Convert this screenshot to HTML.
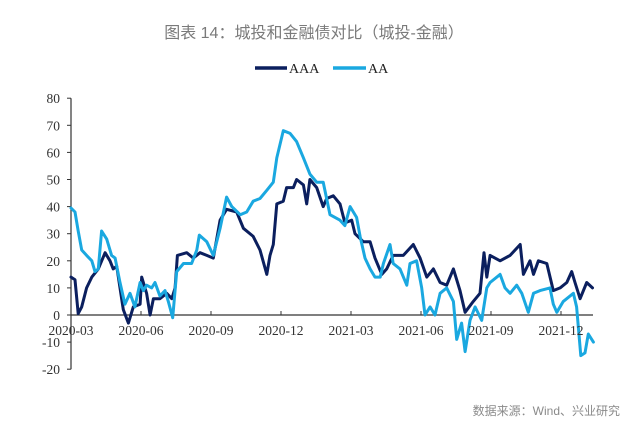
<!DOCTYPE html>
<html><head><meta charset="utf-8">
<style>
html,body{margin:0;padding:0;background:#fff;}
body{width:640px;height:436px;overflow:hidden;position:relative;}
svg{position:absolute;left:0;top:0;}
</style></head>
<body>
<svg id="chart" width="640" height="436" xmlns="http://www.w3.org/2000/svg">
<text x="314" y="38" text-anchor="middle" font-family="'Liberation Sans','Noto Sans CJK SC',sans-serif" font-size="16" fill="#7a7a7a">图表 14：城投和金融债对比（城投-金融）</text>
<g>
<line x1="255" y1="68" x2="287" y2="68" stroke="#0b1f5e" stroke-width="3.5"/>
<text x="289" y="73" font-family="'Liberation Serif',serif" font-size="14" fill="#222">AAA</text>
<line x1="333" y1="68" x2="366" y2="68" stroke="#1aa8e0" stroke-width="3.5"/>
<text x="368" y="73" font-family="'Liberation Serif',serif" font-size="14" fill="#222">AA</text>
</g>
<g id="axes"></g>
<g id="series"></g>
<g id="xlabels"></g>
<text x="620" y="415" text-anchor="end" font-family="'Liberation Sans','Noto Sans CJK SC',sans-serif" font-size="12" fill="#8a8a8a">数据来源：Wind、兴业研究</text>
</svg>
<script>
const yTicks = [80,70,60,50,40,30,20,10,0,-10,-20];
const xTickLabels = ["2020-03","2020-06","2020-09","2020-12","2021-03","2021-06","2021-09","2021-12"];
const xTickMonths = [0,3,6,9,12,15,18,21];
const aaaMonths = [0,0.17,0.31,0.46,0.67,0.89,1.17,1.46,1.67,1.81,1.96,2.1,2.24,2.46,2.67,2.96,3.03,3.24,3.39,3.53,3.81,4.1,4.32,4.46,4.56,4.96,5.24,5.53,5.82,6.1,6.39,6.67,7.1,7.39,7.81,8.1,8.39,8.53,8.67,8.82,9.1,9.24,9.53,9.67,9.96,10.1,10.24,10.53,10.81,10.96,11.24,11.53,11.74,12.03,12.17,12.53,12.82,13.03,13.32,13.53,13.81,14.24,14.67,14.96,15.25,15.53,15.82,16.1,16.39,16.67,16.89,17.24,17.53,17.7,17.82,17.96,18.39,18.82,19.25,19.39,19.67,19.82,20.03,20.39,20.67,20.96,21.25,21.46,21.6,21.82,22.1,22.35];
const aaaValues = [14,13,0.5,3,10,14,17,23,20,17,18,10,2,-3,3,4,14,8,0,6,6,8,6,10,22,23,21,23,22,21,35,39,38,32,29,24,15,22,26,41,42,47,47,50,48,41,50,47,40,43,44,41,34,35,30,27,27,21,15,17,22,22,26,21,14,17,12,11,17,9,1,5,8,23,14,22,20,22,26,15,20,15,20,19,9,10,12,16,12,6,12,10];
const aaMonths = [0,0.17,0.31,0.46,0.67,0.89,1.03,1.17,1.31,1.53,1.74,1.89,2.1,2.31,2.53,2.74,2.96,3.1,3.24,3.46,3.6,3.81,4.03,4.17,4.36,4.53,4.82,5.17,5.39,5.5,5.82,6.1,6.39,6.67,6.89,7.25,7.53,7.81,8.1,8.39,8.67,8.82,9.1,9.39,9.67,9.96,10.24,10.53,10.81,11.1,11.53,11.74,11.96,12.24,12.39,12.6,12.82,13.03,13.25,13.39,13.67,13.81,14.1,14.39,14.53,14.81,15.03,15.17,15.39,15.6,15.82,16.1,16.39,16.53,16.74,16.89,17.1,17.32,17.6,17.82,17.96,18.39,18.6,18.82,19.1,19.32,19.6,19.82,20.1,20.53,20.67,20.82,21.1,21.53,21.67,21.85,22.03,22.17,22.39];
const aaValues = [39.5,38,31,24,22,20,16,17,31,28,22,21,12,4,8,3,12,9,11,10,12,7,9,5,-1,16,19,19,24,29.5,27,22,32,43.5,40,37,38,42,43,46,49,58,68,67,64,58,52,49,49,37,35,33,40,36,29,21,17,14,14,19,26,19,17,11,19,20,10,0,3,0,8,10,5,-9,-3,-13.5,-2,3,-2,10,12,15,10,8,11,8,1,8,9,10,4,1,5,8,3,-15,-14,-7,-10];

const NS = "http://www.w3.org/2000/svg";
const X0 = 71, PXM = 70/3, Y0 = 315, PXV = 2.71;
function xScale(m){ return X0 + m*PXM; }
function yScale(v){ return Y0 - v*PXV; }
function mk(tag, attrs, parent){
  const el = document.createElementNS(NS, tag);
  for (const k in attrs) el.setAttribute(k, attrs[k]);
  parent.appendChild(el);
  return el;
}
const axes = document.getElementById('axes');
const yAxis = mk('line', {x1:X0,y1:yScale(80),x2:X0,y2:yScale(-20),stroke:'#333','stroke-width':1.2}, axes);


const xAxis = mk('line', {x1:X0,y1:Y0,x2:593,y2:Y0,stroke:'#333','stroke-width':1.2}, axes);


yTicks.forEach(v => {
  const y = yScale(v);
  const t = mk('line', {x1:X0-4,y1:y,x2:X0,y2:y,stroke:'#333','stroke-width':1}, axes);
  
  
  const lbl = mk('text', {x:X0-11,y:y+5,'text-anchor':'end','font-family':"'Liberation Serif',serif",'font-size':13.5,fill:'#333'}, axes);
  lbl.textContent = String(v);
  
  
});
const xl = document.getElementById('xlabels');
xTickMonths.forEach((m, i) => {
  const x = xScale(m);
  const t = mk('line', {x1:x,y1:Y0-4,x2:x,y2:Y0,stroke:'#333','stroke-width':1}, axes);
  
  
  const lbl = mk('text', {x:x,y:Y0+20,'text-anchor':'middle','font-family':"'Liberation Serif',serif",'font-size':13.5,fill:'#333'}, xl);
  lbl.textContent = xTickLabels[i];
  
  
});
const series = document.getElementById('series');
function drawLine(ms, vs, color, name){
  const pts = ms.map((m, i) => xScale(m).toFixed(1) + ',' + yScale(vs[i]).toFixed(1)).join(' ');
  const pl = mk('polyline', {points:pts,fill:'none',stroke:color,'stroke-width':3,'stroke-linejoin':'round','stroke-linecap':'round'}, series);
  
  
}
drawLine(aaaMonths, aaaValues, '#0b1f5e', 'series-aaa-line');
drawLine(aaMonths, aaValues, '#1aa8e0', 'series-aa-line');
</script>
</body></html>
